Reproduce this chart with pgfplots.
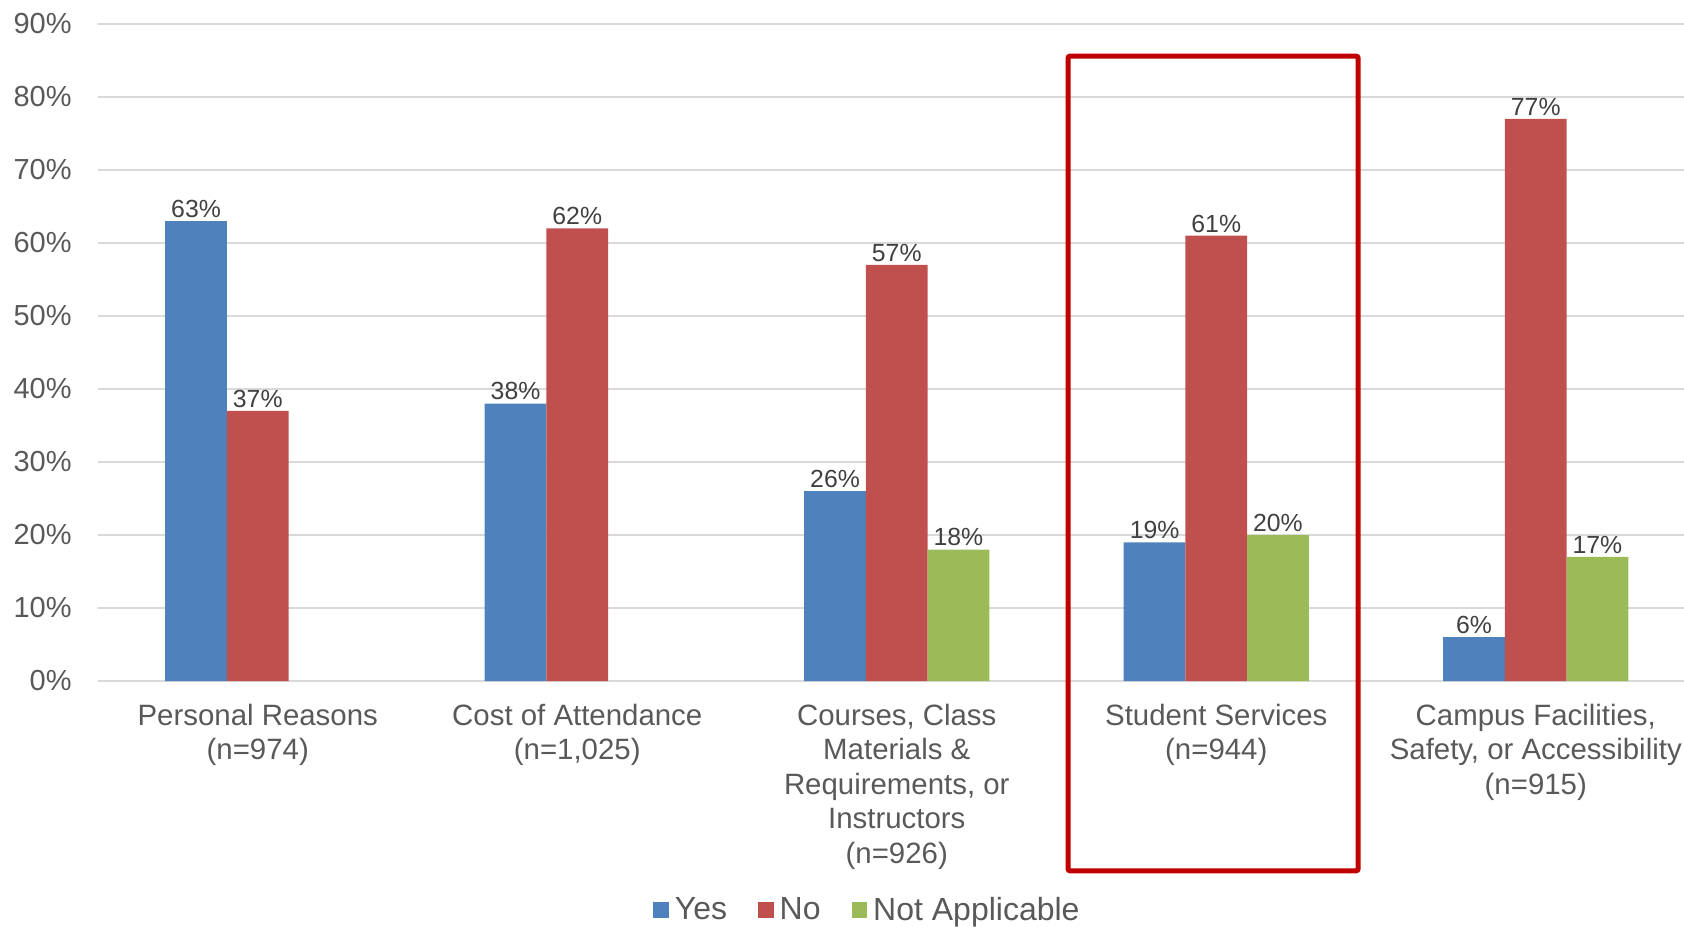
\documentclass[border=0pt]{standalone}
\usepackage{pgfplots}
\pgfplotsset{compat=1.18}
\usepackage{fontspec}
\setmainfont{Liberation Sans}
\definecolor{cyes}{HTML}{4F81BD}
\definecolor{cno}{HTML}{C0504D}
\definecolor{cna}{HTML}{9BBB59}
\definecolor{ctxt}{HTML}{595959}
\definecolor{clab}{HTML}{404040}
\definecolor{cgrid}{HTML}{D9D9D9}
\definecolor{cbox}{HTML}{C00000}
\begin{document}
\begin{tikzpicture}
\useasboundingbox (-49pt,-122.5pt) rectangle (793pt,340.5pt);
\begin{axis}[
  at={(0pt,0pt)}, anchor=south west,
  scale only axis, width=793pt, height=328.5pt,
  ybar=0pt, bar width=30.85pt,
  xmin=-0.5, xmax=4.464, ymin=0, ymax=90,
  xtick={0,1,2,3,4},
  xticklabels={{Personal Reasons\\(n=974)},{Cost of Attendance\\(n=1,025)},{Courses, Class\\Materials \&\\Requirements, or\\Instructors\\(n=926)},{Student Services\\(n=944)},{Campus Facilities,\\Safety, or Accessibility\\(n=915)}},
  xticklabel style={align=center, anchor=north, inner sep=0pt, yshift=-7.1pt, font=\fontsize{14.7}{17.2}\selectfont, text=ctxt},
  ytick={0,10,...,90},
  yticklabel={\pgfmathprintnumber{\tick}\%},
  yticklabel style={anchor=east, inner sep=0pt, xshift=-13pt, font=\fontsize{14.5}{17}\selectfont, text=ctxt},
  /pgf/number format/assume math mode=true,
  ymajorgrids, grid style={cgrid, line width=0.75pt},
  axis line style={draw=none}, tick style={draw=none},
  nodes near coords={\pgfmathprintnumber{\pgfplotspointmeta}\%},
  every node near coord/.append style={font=\fontsize{12.4}{14}\selectfont, text=clab, inner sep=1.5pt},
  clip=false,
  legend columns=3,
  legend style={at={(0.4864,-0.349)}, anchor=center, draw=none, fill=none, font=\fontsize{16}{18}\selectfont, text=ctxt, /tikz/every even column/.append style={column sep=12.5pt}, inner sep=0pt, nodes={inner xsep=3pt, inner ysep=0pt}},
  legend image code/.code={\draw[#1,draw=none] (0pt,-3.75pt) rectangle (7.8pt,4.05pt);},
]
\addplot[fill=cyes, draw=none] coordinates {(0,63) (1,38) (2,26) (3,19) (4,6)};
\addplot[fill=cno, draw=none] coordinates {(0,37) (1,62) (2,57) (3,61) (4,77)};
\addplot[fill=cna, draw=none] coordinates {(2,18) (3,20) (4,17)};
\legend{Yes,No,Not Applicable}
\draw[cbox, line width=2.5pt, rounded corners=1pt] (axis cs:2.536,85.6) rectangle (axis cs:3.444,-26.0);
\end{axis}
\end{tikzpicture}
\end{document}
